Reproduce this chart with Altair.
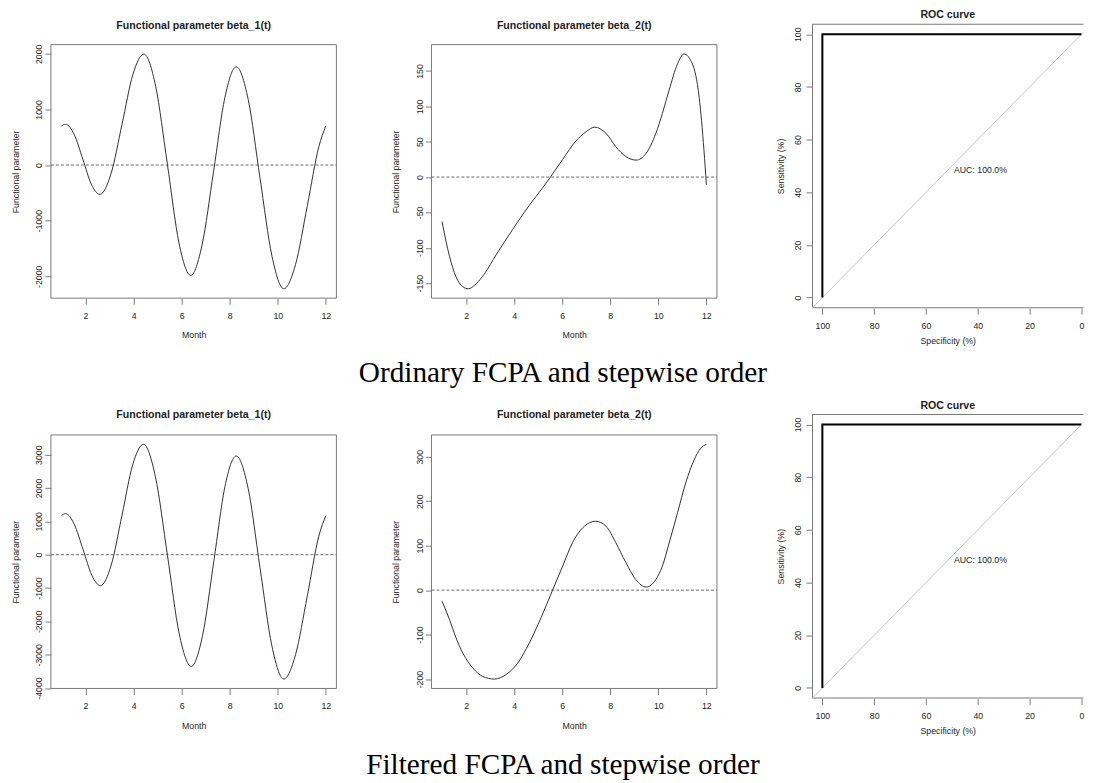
import altair as alt
import pandas as pd

# ---------------- data ----------------
month_ticks = [2, 4, 6, 8, 10, 12]

# Ordinary FCPA, beta_1(t)
months_b1_ord = [1.00, 1.17, 1.53, 1.89, 2.24, 2.60, 3.06, 3.52, 3.97, 4.43, 4.92, 5.41, 5.89,
                 6.38, 6.85, 7.33, 7.80, 8.27, 8.77, 9.26, 9.76, 10.25, 10.74, 11.23, 11.71, 12.00]
beta1_ord = [702, 732, 547, 102, -343, -528, -158, 734, 1626, 1995, 1412, 5, -1402,
             -1985, -1436, -110, 1216, 1765, 1180, -230, -1640, -2225, -1788, -732, 330, 702]
yticks_b1_ord = [-2000, -1000, 0, 1000, 2000]

# Ordinary FCPA, beta_2(t)
months_b2_ord = [1.00, 1.31, 1.58, 1.86, 2.10, 2.42, 2.76, 3.25, 3.94, 4.63, 5.19, 5.53, 6.02, 6.57,
                 6.99, 7.35, 7.82, 8.23, 8.65, 9.08, 9.48, 9.90, 10.17, 10.45, 10.80, 11.07, 11.42,
                 11.70, 11.90, 12.00]
beta2_ord = [-63, -112, -141, -155, -158, -151, -137, -110, -74, -40, -15, 1, 25, 51,
             64, 70.5, 62, 43, 29, 24, 33, 62, 90, 123, 160, 174, 160,
             113, 38, -11]
yticks_b2_ord = [-150, -100, -50, 0, 50, 100, 150]

# Filtered FCPA, beta_1(t)
months_b1_fil = [1.00, 1.17, 1.53, 1.90, 2.26, 2.62, 3.07, 3.52, 3.96, 4.41, 4.91, 5.41, 5.90,
                 6.40, 6.87, 7.34, 7.80, 8.27, 8.77, 9.26, 9.76, 10.25, 10.74, 11.23, 11.71, 12.00]
beta1_fil = [1180, 1230, 914, 150, -614, -930, -309, 1190, 2689, 3310, 2334, -20, -2374,
             -3350, -2426, -195, 2036, 2960, 1980, -385, -2750, -3730, -2999, -1235, 560, 1170]
yticks_b1_fil = [-4000, -3000, -2000, -1000, 0, 1000, 2000, 3000]

# Filtered FCPA, beta_2(t)
months_b2_fil = [1.00, 1.31, 1.58, 1.86, 2.28, 2.69, 3.18, 3.66, 4.15, 4.63, 5.12, 5.60, 6.02,
                 6.43, 6.85, 7.40, 7.82, 8.23, 8.65, 9.06, 9.50, 9.90, 10.17, 10.45, 10.80,
                 11.14, 11.49, 11.76, 12.00]
beta2_fil = [-25, -66, -107, -141, -175, -194, -200, -190, -164, -119, -62, 0, 54,
             107, 140, 155, 144, 107, 62, 24, 7, 24, 54, 106, 174,
             241, 293, 319, 328]
yticks_b2_fil = [-200, -100, 0, 100, 200, 300]

zero_level = [0]

# ROC curve (both models)
roc_specificity = [100, 100, 0]
roc_sensitivity = [0, 100, 100]
chance_specificity = [110, -10]
chance_sensitivity = [-10, 110]
roc_ticks = [0, 20, 40, 60, 80, 100]
auc_label = ["AUC: 100.0%"]
auc_specificity = [50]
auc_sensitivity = [50]

panel_titles = ["Functional parameter beta_1(t)", "Functional parameter beta_2(t)", "ROC curve"]
captions = ["Ordinary FCPA and stepwise order", "Filtered FCPA and stepwise order"]

# ---------------- styling ----------------
SANS = "Liberation Sans"
SERIF = "Liberation Serif"
TXT = "#1e1e1e"
BOX = "#7a7a7a"
LINE = "#333333"
FS = 8.8

X_LO, X_HI = 1 - 0.04 * 11, 12 + 0.04 * 11
FW, FH, GAP = 286, 275, 21      # function view; empty band above the R frame
RW, RH = 272, 285               # ROC view is cropped on the right, as in the figure
ROC_LO, ROC_HI = -4, 104        # R's 4% extended limits
ROC_PX = 2.595                  # pixels per percent along specificity


def limits(vals):
    lo, hi = min(vals), max(vals)
    e = 0.04 * (hi - lo)
    return lo - e, hi + e


def common_axis(**kw):
    base = dict(domain=False, grid=False, ticks=True, tickSize=6, tickColor=BOX, tickWidth=1,
                labelFont=SANS, labelFontSize=FS, labelColor=TXT, labelFlush=False,
                labelOverlap=False, titleFont=SANS, titleFontSize=FS, titleFontWeight="normal",
                titleColor=TXT)
    base.update(kw)
    return alt.Axis(**base)


def title_params(text, offset):
    return alt.Title(text=text, font=SANS, fontSize=10.6, fontWeight="bold", color=TXT,
                     anchor="middle", frame="group", baseline="middle", offset=offset)


def func_panel(months, vals, title, yticks, title_offset):
    lo, hi = limits(vals)
    top = hi + (hi - lo) * GAP / (FH - GAP)
    xs = alt.Scale(domain=[X_LO, X_HI], nice=False, zero=False)
    ys = alt.Scale(domain=[lo, top], nice=False, zero=False)
    df = pd.DataFrame({"Month": months, "Value": vals})
    xaxis = common_axis(values=month_ticks, title="Month", labelPadding=7, labelBaseline="top",
                        titleY=36.8, titleBaseline="middle")
    yaxis = common_axis(values=yticks, title="Functional parameter", labelAngle=270,
                        labelAlign="center", labelBaseline="alphabetic", labelPadding=3.1,
                        labelExpr="'' + datum.value", titleAngle=270, titleX=-35.7,
                        titleY=GAP + (FH - GAP) / 2, titleBaseline="middle", titleAlign="center")
    frame = alt.Chart(pd.DataFrame({"Month": [X_LO], "b": [X_HI], "Value": [lo], "hi": [hi]})).mark_rect(
        fillOpacity=0, stroke=BOX, strokeWidth=1
    ).encode(
        x=alt.X("Month:Q", scale=xs, axis=xaxis), x2="b:Q",
        y=alt.Y("Value:Q", scale=ys, axis=yaxis), y2="hi:Q",
    )
    zero = alt.Chart(pd.DataFrame({"Month": [X_LO], "b": [X_HI], "Value": zero_level})).mark_rule(
        color="#6a6a6a", strokeWidth=1, strokeDash=[3, 2]
    ).encode(
        x=alt.X("Month:Q", scale=xs, axis=xaxis), x2="b:Q",
        y=alt.Y("Value:Q", scale=ys, axis=yaxis),
    )
    curve = alt.Chart(df).mark_line(color=LINE, strokeWidth=1, interpolate="monotone").encode(
        x=alt.X("Month:Q", scale=xs, axis=xaxis),
        y=alt.Y("Value:Q", scale=ys, axis=yaxis),
    )
    return alt.layer(frame, zero, curve).properties(
        width=FW, height=FH, title=title_params(title, title_offset)
    )


def roc_panel():
    span = RW / ROC_PX
    xs = alt.Scale(domain=[ROC_HI - span, ROC_HI], reverse=True, nice=False, zero=False)
    ys = alt.Scale(domain=[ROC_LO, ROC_HI], nice=False, zero=False)
    xaxis = common_axis(values=roc_ticks, title="Specificity (%)", labelPadding=7,
                        labelBaseline="top", titleY=32, titleBaseline="middle")
    yaxis = common_axis(values=roc_ticks, title="Sensitivity (%)", labelAngle=270,
                        labelAlign="center", labelBaseline="alphabetic", labelPadding=5.8,
                        titleAngle=270, titleX=-31.3, titleBaseline="middle", titleAlign="center")
    # R box: left/top/bottom sides; the right side lies beyond the cropped edge
    frame = alt.Chart(pd.DataFrame({"Specificity": [ROC_HI], "s2": [ROC_LO - 30],
                                    "Sensitivity": [ROC_LO], "t2": [ROC_HI]})).mark_rect(
        fillOpacity=0, stroke=BOX, strokeWidth=2, clip=True
    ).encode(
        x=alt.X("Specificity:Q", scale=xs, axis=xaxis), x2="s2:Q",
        y=alt.Y("Sensitivity:Q", scale=ys, axis=yaxis), y2="t2:Q",
    )
    chance = alt.Chart(pd.DataFrame({"Specificity": chance_specificity,
                                     "Sensitivity": chance_sensitivity})).mark_line(
        color="#c8c8c8", strokeWidth=1, clip=True
    ).encode(
        x=alt.X("Specificity:Q", scale=xs, axis=xaxis),
        y=alt.Y("Sensitivity:Q", scale=ys, axis=yaxis),
    )
    roc_df = pd.DataFrame({"Specificity": roc_specificity, "Sensitivity": roc_sensitivity,
                           "step": list(range(len(roc_specificity)))})
    curve = alt.Chart(roc_df).mark_line(color="#000000", strokeWidth=2).encode(
        x=alt.X("Specificity:Q", scale=xs, axis=xaxis),
        y=alt.Y("Sensitivity:Q", scale=ys, axis=yaxis),
        order="step:Q",
    )
    auc = alt.Chart(pd.DataFrame({"Specificity": auc_specificity, "Sensitivity": auc_sensitivity,
                                  "lab": auc_label})).mark_text(
        align="left", baseline="top", font=SANS, fontSize=FS, color=TXT, dx=2
    ).encode(
        x=alt.X("Specificity:Q", scale=xs, axis=xaxis),
        y=alt.Y("Sensitivity:Q", scale=ys, axis=yaxis),
        text="lab:N",
    )
    return alt.layer(frame, chance, curve, auc).properties(
        width=RW, height=RH, title=title_params(panel_titles[2], -2.2),
    )


def blank():
    return alt.Chart(pd.DataFrame({"b": [""]})).mark_text().encode(text="b:N").properties(width=10, height=10)


def caption_cell(text, height, dy):
    return alt.Chart(pd.DataFrame({"caption": [text]})).mark_text(
        font=SERIF, fontSize=29.3, color="#000000", dx=-11.3, dy=dy
    ).encode(text="caption:N").properties(width=FW, height=height)


cells = [
    func_panel(months_b1_ord, beta1_ord, panel_titles[0], yticks_b1_ord, -12.5),
    func_panel(months_b2_ord, beta2_ord, panel_titles[1], yticks_b2_ord, -12.5),
    roc_panel(),
    blank(), caption_cell(captions[0], 86, 12), blank(),
    func_panel(months_b1_fil, beta1_fil, panel_titles[0], yticks_b1_fil, -11.5),
    func_panel(months_b2_fil, beta2_fil, panel_titles[1], yticks_b2_fil, -11.5),
    roc_panel(),
    blank(), caption_cell(captions[1], 20, 47),
]

chart = alt.concat(
    *cells, columns=3, spacing={"row": 10, "column": 95.25}, bounds="flush", align="each"
).properties(
    padding={"left": 3, "top": 1, "right": 0, "bottom": 0}
).configure_view(strokeWidth=0)

chart.save("out.html", embed_options={"renderer": "svg", "actions": False})
